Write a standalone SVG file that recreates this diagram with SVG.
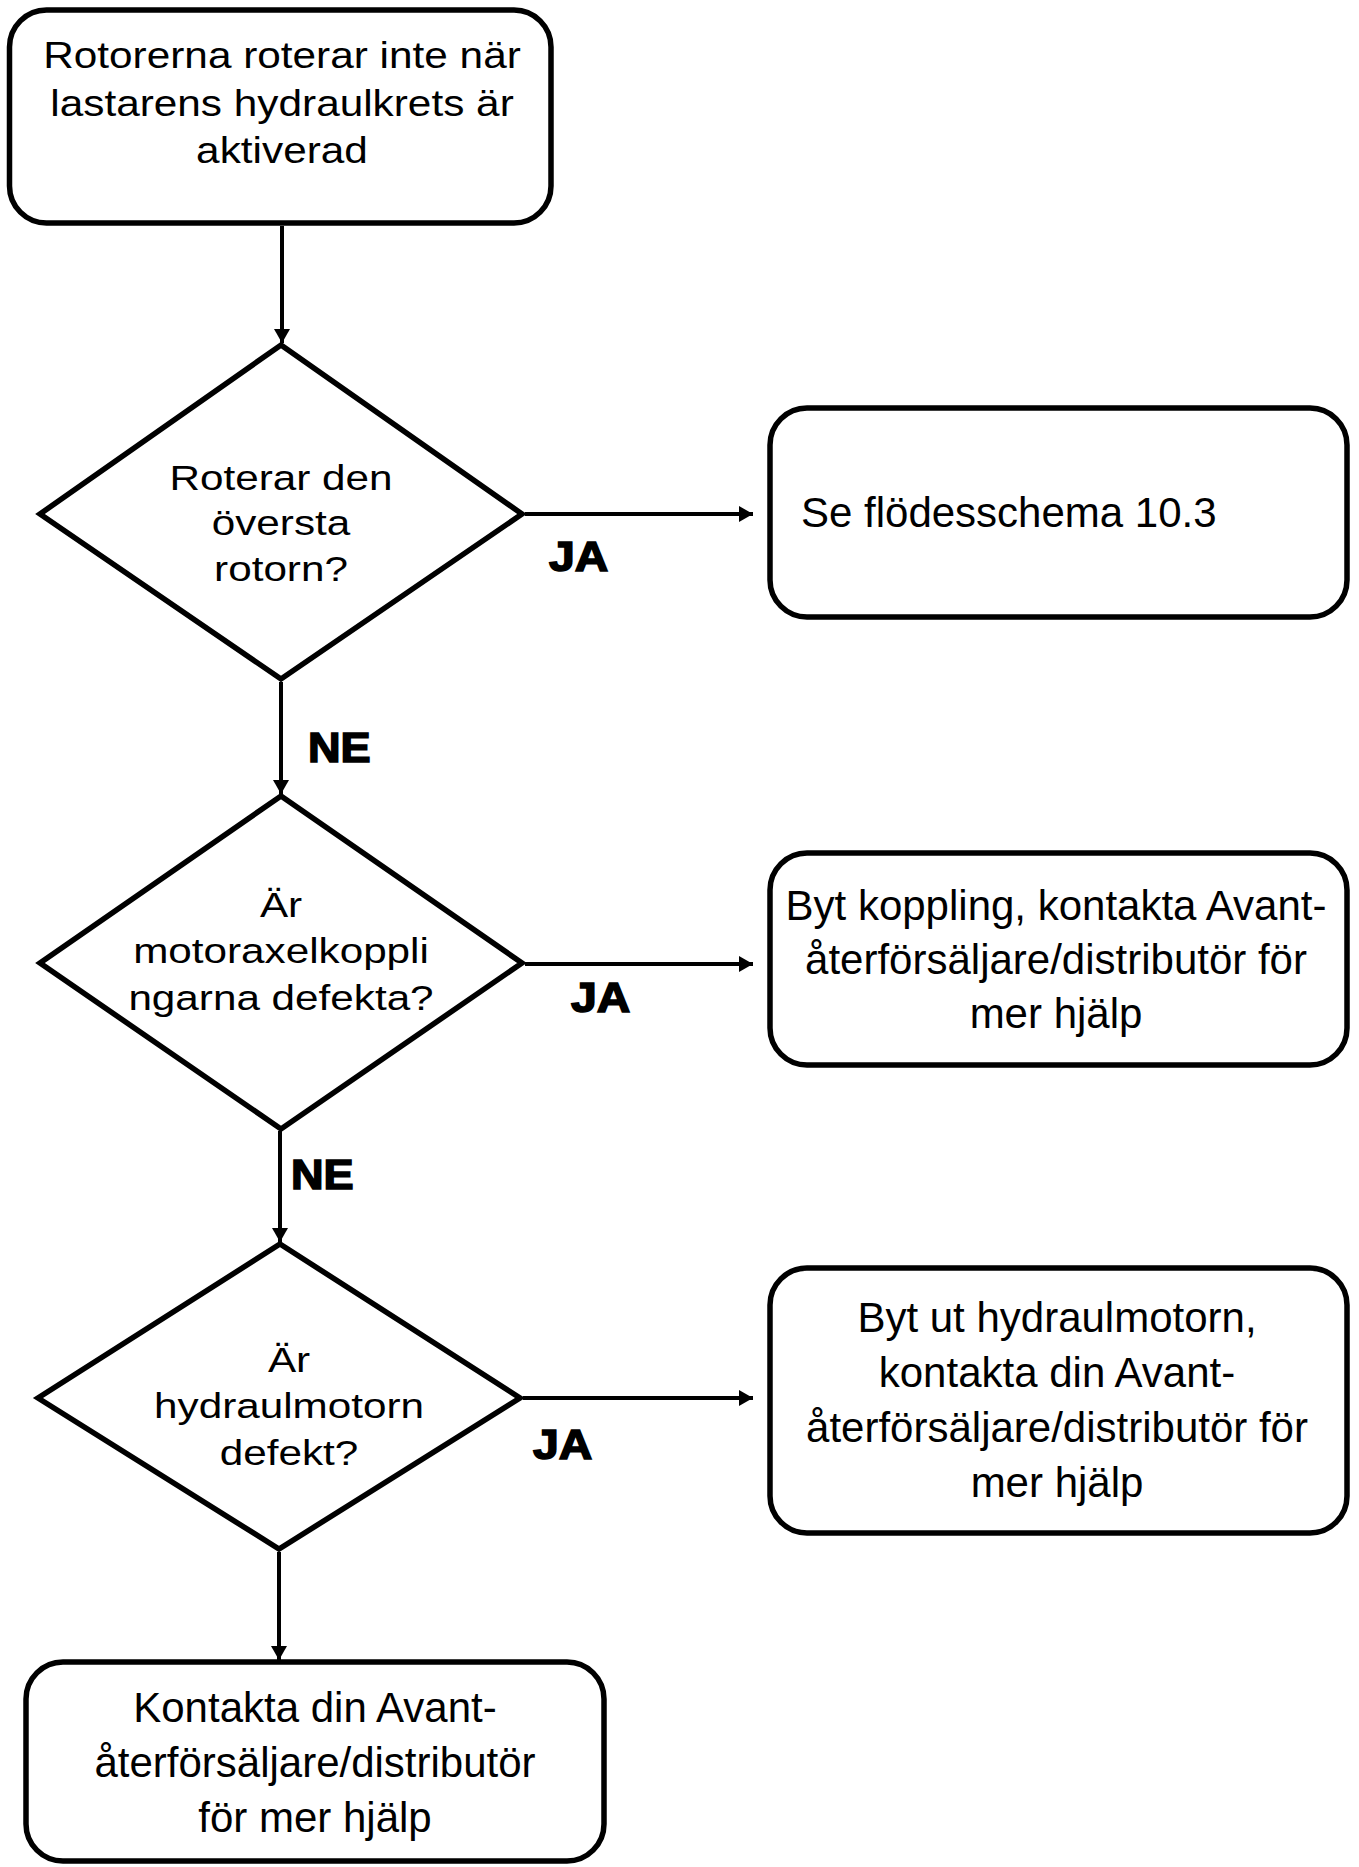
<svg xmlns="http://www.w3.org/2000/svg" width="1359" height="1867" viewBox="0 0 1359 1867">
  <style>
    .shape { fill: #fff; stroke: #000; stroke-width: 5.5; }
    .conn { fill: none; stroke: #000; stroke-width: 4; }
    .t { font-family: "Liberation Sans", Arial, sans-serif; fill: #000; text-anchor: middle; }
    .tb { font-size: 42px; }
    .td { font-size: 35.5px; }
    .tt { font-size: 36.5px; }
    .lbl { font-family: "Liberation Sans", Arial, sans-serif; font-weight: bold; font-size: 43px; fill: #000; stroke: #000; stroke-width: 1.6; }
  </style>
  <defs>
    <marker id="arrow" markerUnits="userSpaceOnUse" viewBox="0 0 14 16" refX="14" refY="8" markerWidth="14" markerHeight="16" orient="auto">
      <path d="M0,0 L14,8 L0,16 z" fill="#000"/>
    </marker>
  </defs>
  <rect width="1359" height="1867" fill="#fff"/>

  <g id="connectors">
    <line class="conn" x1="282" y1="226" x2="282" y2="343" marker-end="url(#arrow)"/>
    <line class="conn" x1="525" y1="514" x2="753" y2="514" marker-end="url(#arrow)"/>
    <line class="conn" x1="281" y1="682" x2="281" y2="794" marker-end="url(#arrow)"/>
    <line class="conn" x1="525" y1="964" x2="753" y2="964" marker-end="url(#arrow)"/>
    <line class="conn" x1="280" y1="1131" x2="280" y2="1242" marker-end="url(#arrow)"/>
    <line class="conn" x1="523" y1="1398" x2="753" y2="1398" marker-end="url(#arrow)"/>
    <line class="conn" x1="279" y1="1552" x2="279" y2="1660" marker-end="url(#arrow)"/>
    <g id="labels">
      <text class="lbl" transform="matrix(1.08 0 0 1 549 571)">JA</text>
      <text class="lbl" transform="matrix(1.05 0 0 1 308 762)">NE</text>
      <text class="lbl" transform="matrix(1.08 0 0 1 571 1012)">JA</text>
      <text class="lbl" transform="matrix(1.05 0 0 1 291 1189)">NE</text>
      <text class="lbl" transform="matrix(1.08 0 0 1 533 1459)">JA</text>
    </g>
  </g>

  <g id="start">
    <rect class="shape" x="9.5" y="10" width="541.5" height="213" rx="37"/>
    <g transform="matrix(1.16 0 0 1 282 0)">
      <text class="t tt" x="0" y="68">Rotorerna roterar inte när</text>
      <text class="t tt" x="0" y="116">lastarens hydraulkrets är</text>
      <text class="t tt" x="0" y="163">aktiverad</text>
    </g>
  </g>

  <g id="decision1">
    <polygon class="shape" points="281,345 522,514 281,679 40,514"/>
    <g transform="matrix(1.19 0 0 1 281 0)">
      <text class="t td" x="0" y="490">Roterar den</text>
      <text class="t td" x="0" y="535">översta</text>
      <text class="t td" x="0" y="581">rotorn?</text>
    </g>
  </g>

  <g id="result1">
    <rect class="shape" x="770" y="408" width="577" height="209" rx="37"/>
    <text class="t tb" x="801" y="527" style="text-anchor:start">Se flödesschema 10.3</text>
  </g>

  <g id="decision2">
    <polygon class="shape" points="281,796 522,963 281,1129 40,963"/>
    <g transform="matrix(1.19 0 0 1 281 0)">
      <text class="t td" x="0" y="917">Är</text>
      <text class="t td" x="0" y="963">motoraxelkoppli</text>
      <text class="t td" x="0" y="1010">ngarna defekta?</text>
    </g>
  </g>

  <g id="result2">
    <rect class="shape" x="770" y="853" width="577" height="212" rx="37"/>
    <text class="t tb" x="1056" y="920">Byt koppling, kontakta Avant-</text>
    <text class="t tb" x="1056" y="974">återförsäljare/distributör för</text>
    <text class="t tb" x="1056" y="1028">mer hjälp</text>
  </g>

  <g id="decision3">
    <polygon class="shape" points="280,1244 520,1398 279,1549 38,1398"/>
    <g transform="matrix(1.19 0 0 1 289 0)">
      <text class="t td" x="0" y="1372">Är</text>
      <text class="t td" x="0" y="1418">hydraulmotorn</text>
      <text class="t td" x="0" y="1465">defekt?</text>
    </g>
  </g>

  <g id="result3">
    <rect class="shape" x="770" y="1268" width="577" height="265" rx="37"/>
    <text class="t tb" x="1057" y="1332">Byt ut hydraulmotorn,</text>
    <text class="t tb" x="1057" y="1387">kontakta din Avant-</text>
    <text class="t tb" x="1057" y="1442">återförsäljare/distributör för</text>
    <text class="t tb" x="1057" y="1497">mer hjälp</text>
  </g>

  <g id="end">
    <rect class="shape" x="26" y="1662" width="578" height="199" rx="37"/>
    <text class="t tb" x="315" y="1722">Kontakta din Avant-</text>
    <text class="t tb" x="315" y="1777">återförsäljare/distributör</text>
    <text class="t tb" x="315" y="1832">för mer hjälp</text>
  </g>
</svg>
